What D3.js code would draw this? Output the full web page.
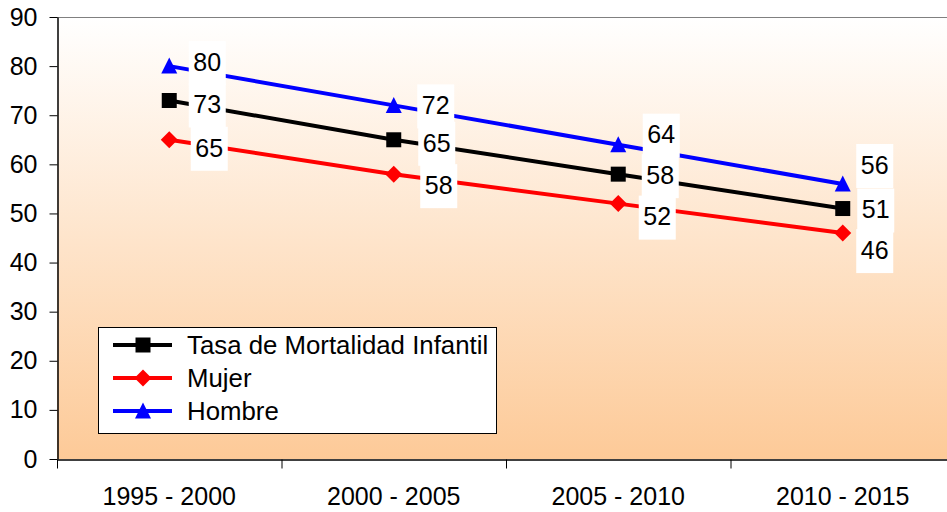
<!DOCTYPE html>
<html>
<head>
<meta charset="utf-8">
<script src="https://cdn.jsdelivr.net/npm/d3@7"></script>
<style>
  html, body { margin: 0; padding: 0; background: #fff; }
  svg { display: block; font-family: "Liberation Sans", Arial, sans-serif; }
</style>
</head>
<body>
<div id="chart"></div>
<script>
/* ===== Data ===== */
const categories = ["1995 - 2000", "2000 - 2005", "2005 - 2010", "2010 - 2015"];
const tasaValues = [73, 65, 58, 51];
const mujerValues = [65, 58, 52, 46];
const hombreValues = [80, 72, 64, 56];
const yTickValues = [0, 10, 20, 30, 40, 50, 60, 70, 80, 90];
const seriesNames = ["Tasa de Mortalidad Infantil", "Mujer", "Hombre"];

/* ===== Layout ===== */
const width = 947, height = 512;
const plot = {left: 57, top: 17, bottom: 459, step: 224.5};
const fontSize = 25;

// series styles + label nudges (dx, dy of label centre from the point)
const series = [
    {name: seriesNames[0], values: tasaValues, color: "#000000", marker: "square",
     nudge: [[38, 4], [43, 3], [42, 1], [33, 1]]},
    {name: seriesNames[1], values: mujerValues, color: "#ff0000", marker: "diamond",
     nudge: [[40, 8], [45, 11], [39, 13], [32, 17]]},
    {name: seriesNames[2], values: hombreValues, color: "#0000ff", marker: "triangle",
     nudge: [[38, -4], [42, 0], [43, -10], [32, -19]]}
];

// marker path centred on 0,0
function markerPath(shape) {
    if (shape === "square") return "M-7.5,-7.5H7.5V7.5H-7.5Z";
    if (shape === "diamond") return "M0,-8.5L8.5,0L0,8.5L-8.5,0Z";
    return "M0,-8.5L8,7.5H-8Z";
}

const svg = d3.select("#chart").append("svg")
    .attr("width", width)
    .attr("height", height);

const x = d3.scaleBand()
    .domain(categories)
    .range([plot.left, plot.left + plot.step * categories.length])
    .padding(0);

const y = d3.scaleLinear()
    .domain([0, 90])
    .range([plot.bottom, plot.top]);

const cx = d => x(d) + x.bandwidth() / 2;

// Plot area gradient, white at top to tan at the bottom
const grad = svg.append("defs").append("linearGradient")
    .attr("id", "bg")
    .attr("x1", 0).attr("y1", 0).attr("x2", 0).attr("y2", 1);
grad.append("stop").attr("offset", "0%").attr("stop-color", "#ffffff");
grad.append("stop").attr("offset", "100%").attr("stop-color", "#fdca98");

svg.append("rect")
    .attr("x", plot.left)
    .attr("y", plot.top)
    .attr("width", x.range()[1] - plot.left)
    .attr("height", plot.bottom - plot.top)
    .attr("fill", "url(#bg)");

// top border of plot area
svg.append("line")
    .attr("x1", plot.left).attr("x2", x.range()[1])
    .attr("y1", plot.top + 0.5).attr("y2", plot.top + 0.5)
    .attr("stroke", "#808080");

// Y axis
const yAxis = svg.append("g")
    .attr("transform", `translate(${plot.left + 0.5},0)`)
    .call(d3.axisLeft(y).tickValues(yTickValues).tickSize(8).tickPadding(12).tickSizeOuter(0));
yAxis.select(".domain").attr("stroke", "#000").attr("stroke-width", 1.5);
yAxis.selectAll(".tick line").attr("stroke", "#000");
yAxis.selectAll("text").attr("font-size", fontSize).attr("fill", "#000")
    .attr("font-family", "Liberation Sans, Arial, sans-serif");

// X axis, labels at band centres, ticks between the categories
const xAxis = svg.append("g")
    .attr("transform", `translate(0,${plot.bottom + 0.5})`)
    .call(d3.axisBottom(x).tickSize(0).tickPadding(28).tickSizeOuter(0));
xAxis.select(".domain").attr("stroke", "#000").attr("stroke-width", 1.5);
xAxis.selectAll("text").attr("font-size", fontSize).attr("fill", "#000")
    .attr("font-family", "Liberation Sans, Arial, sans-serif");

xAxis.selectAll(".sep")
    .data(categories)
    .join("line")
    .classed("sep", true)
    .attr("x1", d => x(d) + 0.5).attr("x2", d => x(d) + 0.5)
    .attr("y1", 0).attr("y2", 9)
    .attr("stroke", "#000");

// Lines and markers
const line = d3.line()
    .x((d, i) => cx(categories[i]))
    .y(d => y(d));

series.forEach(s => {
    svg.append("path")
        .datum(s.values)
        .attr("d", line)
        .attr("fill", "none")
        .attr("stroke", s.color)
        .attr("stroke-width", 4);

    svg.append("g").selectAll("path")
        .data(s.values)
        .join("path")
        .attr("d", markerPath(s.marker))
        .attr("transform", (d, i) => `translate(${cx(categories[i])},${y(d)})`)
        .attr("fill", s.color);
});

// Data labels on white boxes
series.forEach(s => {
    const g = svg.append("g").selectAll("g")
        .data(s.values)
        .join("g")
        .attr("transform", (d, i) => `translate(${cx(categories[i]) + s.nudge[i][0]},${y(d) + s.nudge[i][1]})`);
    g.append("rect")
        .attr("x", -18.5).attr("y", -21)
        .attr("width", 37).attr("height", 44)
        .attr("fill", "#fff");
    g.append("text")
        .attr("text-anchor", "middle")
        .attr("dy", "0.35em")
        .attr("font-size", fontSize)
        .text(d => d);
});

// Legend
const legend = svg.append("g").attr("transform", "translate(98,327)");
legend.append("rect")
    .attr("x", 0.5).attr("y", 0.5)
    .attr("width", 398).attr("height", 106)
    .attr("fill", "#fff")
    .attr("stroke", "#000");

const item = legend.selectAll(".item")
    .data(series)
    .join("g")
    .classed("item", true)
    .attr("transform", (d, i) => `translate(0,${18 + i * 33})`);
item.append("line")
    .attr("x1", 15).attr("x2", 74)
    .attr("stroke", d => d.color)
    .attr("stroke-width", 4);
item.append("path")
    .attr("d", d => markerPath(d.marker))
    .attr("transform", "translate(45,0)")
    .attr("fill", d => d.color);
item.append("text")
    .attr("x", 89)
    .attr("dy", "0.35em")
    .attr("font-size", 25.8)
    .text(d => d.name);
</script>
</body>
</html>
